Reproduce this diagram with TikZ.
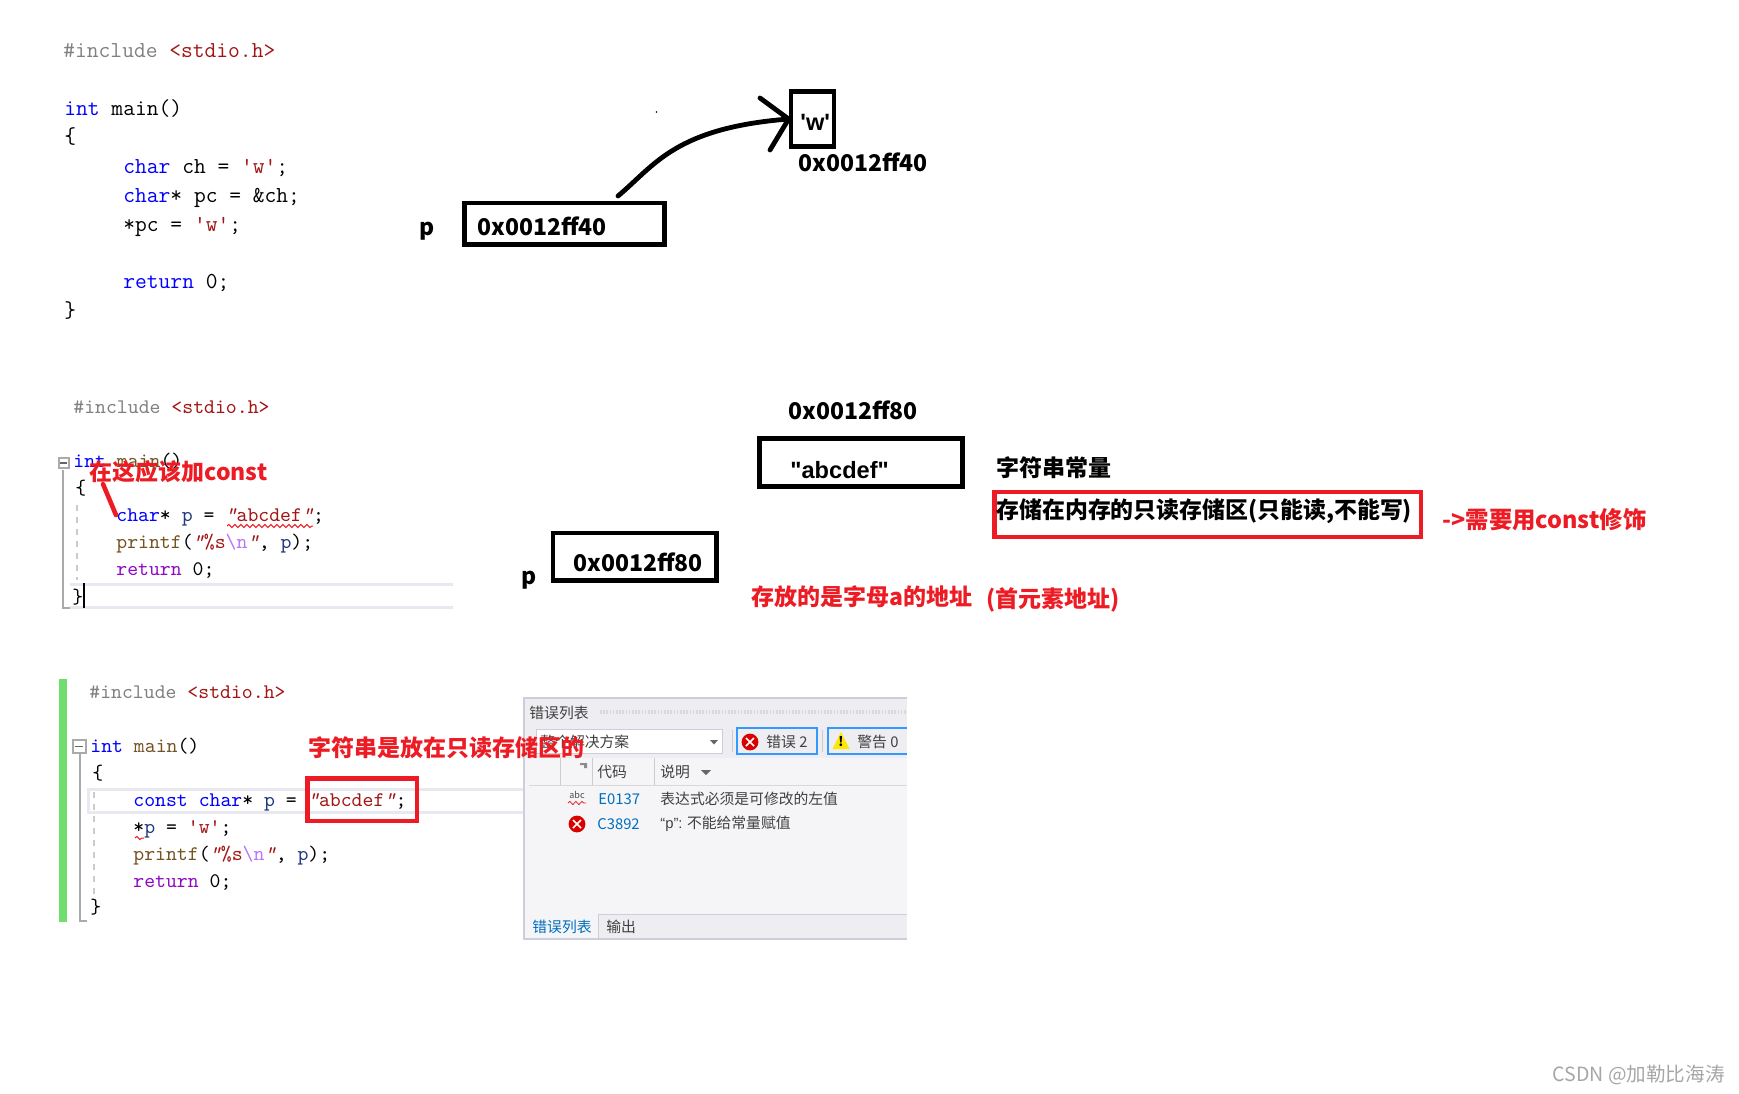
\documentclass[tikz,border=0pt]{standalone}
\usepackage{fontspec}
\setmainfont{Noto Sans CJK SC}
\newfontfamily\latinfont{Liberation Sans}
\usepackage{tikz}
\usetikzlibrary{decorations.pathmorphing}

\definecolor{kwblue}{RGB}{0,0,255}
\definecolor{strred}{RGB}{163,21,21}
\definecolor{incgray}{RGB}{128,128,128}
\definecolor{fnbrown}{RGB}{116,83,31}
\definecolor{varblue}{RGB}{31,55,127}
\definecolor{flowpurple}{RGB}{143,8,196}
\definecolor{escpurple}{RGB}{183,118,251}
\definecolor{notered}{RGB}{237,28,36}
\definecolor{barcolor}{RGB}{112,222,108}
\definecolor{linegray}{RGB}{232,232,240}
\definecolor{foldgray}{RGB}{170,170,170}
\definecolor{panelbg}{RGB}{245,245,247}
\definecolor{panelbar}{RGB}{238,238,242}
\definecolor{panelline}{RGB}{204,206,219}
\definecolor{btnblue}{RGB}{51,153,255}
\definecolor{codeblue}{RGB}{0,110,190}

\newcommand{\kw}[1]{\textcolor{kwblue}{#1}}
\newcommand{\str}[1]{\textcolor{strred}{#1}}
\newcommand{\inc}[1]{\textcolor{incgray}{#1}}
\newcommand{\fn}[1]{\textcolor{fnbrown}{#1}}
\newcommand{\var}[1]{\textcolor{varblue}{#1}}
\newcommand{\flow}[1]{\textcolor{flowpurple}{#1}}
\newcommand{\esc}[1]{\textcolor{escpurple}{#1}}
\newcommand{\qt}{\textit{"}}

\tikzset{
	codeone/.style={anchor=base west,inner sep=0pt,font=\ttfamily\fontsize{11.43}{13}\selectfont},
	codetwo/.style={anchor=base west,inner sep=0pt,font=\ttfamily\fontsize{10.38}{12}\selectfont},
	blacklabel/.style={anchor=west,inner sep=0pt,font=\bfseries\fontsize{11.5}{14}\selectfont},
	quotelabel/.style={anchor=west,inner sep=0pt,font=\latinfont\bfseries\fontsize{11.8}{14}\selectfont},
	rednote/.style={anchor=west,inner sep=0pt,text=notered,font=\bfseries\fontsize{11.5}{14}\selectfont},
	blackbox/.style={draw,line width=2.4pt,inner sep=0pt},
	redbox/.style={draw=notered,line width=2.2pt,inner sep=0pt},
	paneltext/.style={anchor=west,inner sep=0pt,text=black!75,font=\fontsize{7.4}{9}\selectfont},
	fold/.style={draw=foldgray,line width=1pt},
	squiggle/.style={notered,line width=0.5pt,decorate,decoration={snake,segment length=3pt,amplitude=0.8pt}},
	guide/.style={draw=black!20,line width=0.8pt,dashed}
}

\begin{document}
\begin{tikzpicture}[x=0.5pt,y=-0.5pt]
\useasboundingbox (0,0) rectangle (1739,1093);

% first listing
\node[codeone] (incone) at (63,57) {\inc{\#include} \str{<stdio.h>}};
\node[codeone] (mainone) at (64,115) {\kw{int} main()};
\node[codeone] (openone) at (64,143) {\{};
\node[codeone] (chone) at (123,173) {\kw{char} ch = \str{'w'};};
\node[codeone] (pcone) at (123,202) {\kw{char}* pc = \&ch;};
\node[codeone] (derefone) at (123,231) {*pc = \str{'w'};};
\node[codeone] (retone) at (123,288) {\kw{return} 0;};
\node[codeone] (closeone) at (64,317) {\}};

% pointer to the char
\node[blacklabel] (pone) at (419,231) {p};
\node[blackbox,minimum width=99.8pt,minimum height=20.6pt] (pcbox) at (564.5,223.5) {};
\node[blacklabel] (pcval) at (477,226) {0x0012ff40};
\node[blackbox,minimum width=21.5pt,minimum height=27.6pt] (wbox) at (812.5,119) {};
\node[quotelabel] (wval) at (800,122) {'w'};
\node[blacklabel] (waddr) at (798,162) {0x0012ff40};
\coordinate (arcstart) at (618,196);
\coordinate (headup) at (760,98);
\coordinate (headdown) at (770,150);
\draw[line width=2.4pt,line cap=round] (arcstart) .. controls (655,165) and (675,128) .. (wbox.west);
\draw[line width=2.4pt,line cap=round] (headup) -- (wbox.west) -- (headdown);
\fill (656.5,112) circle (0.4pt);

% second listing
\draw[linegray,line width=1.5pt] (70,584.5) -- (453,584.5) (70,607.5) -- (453,607.5);
\draw[fold] (63,470) -- (63,608) -- (70,608);
\node[fold,minimum size=5pt,inner sep=0pt] (foldtwo) at (63.5,463) {};
\draw[black!60,line width=0.6pt] (60,463) -- (67,463);
\draw[guide] (77,505) -- (77,580);
\node[codetwo] (inctwo) at (73,413) {\inc{\#include} \str{<stdio.h>}};
\node[codetwo] (maintwo) at (73,467) {\kw{int} \fn{main}()};
\node[codetwo] (opentwo) at (75,494) {\{};
\node[codetwo] (chartwo) at (116,521) {\kw{char}* \var{p} = \str{\qt abcdef\qt};};
\node[codetwo] (printtwo) at (116,548) {\fn{printf}(\str{\qt\%s}\esc{\textbackslash n}\str{\qt}, \var{p});};
\node[codetwo] (rettwo) at (116,575) {\flow{return} 0;};
\node[codetwo] (closetwo) at (72,603) {\}};
\draw[line width=0.7pt] (84,583) -- (84,608);
\draw[squiggle] (227,526) -- (313,526);
\node[rednote] (addconst) at (89,472) {在这应该加const};
\coordinate (markstart) at (103,484);
\coordinate (markend) at (116,515);
\draw[notered,line width=2.3pt,line cap=round] (markstart) -- (markend);

% string constant
\node[blacklabel] (abcaddr) at (788,410) {0x0012ff80};
\node[blackbox,minimum width=101.4pt,minimum height=23.8pt] (abcbox) at (861.2,462.5) {};
\node[quotelabel] (abcval) at (790,470) {"abcdef"};
\node[blacklabel] (conststr) at (996,468) {字符串常量};
\node[redbox,minimum width=213.2pt,minimum height=22.5pt] (robox) at (1207.7,514.5) {};
\node[blacklabel,font=\bfseries\fontsize{11.45}{14}\selectfont] (rotext) at (996,511) {存储在内存的只读存储区(只能读,不能写)};
\node[rednote,font=\bfseries\fontsize{11.7}{14}\selectfont] (needconst) at (1442,520) {->需要用const修饰};
\node[blacklabel] (ptwo) at (521,580) {p};
\node[blackbox,minimum width=81.6pt,minimum height=23.6pt] (ptwobox) at (634.5,556.5) {};
\node[blacklabel] (ptwoval) at (573,562) {0x0012ff80};
\node[rednote] (addrnote) at (751,597) {存放的是字母a的地址};
\node[rednote] (firstnote) at (986,600) {(首元素地址)};

% third listing
\fill[barcolor] (59,679) rectangle (67,922);
\draw[linegray,line width=1.5pt] (88,789) rectangle (530,812.5);
\draw[fold] (80,754) -- (80,921) -- (87,921);
\node[fold,minimum size=6.5pt,inner sep=0pt] (foldthree) at (79,746.5) {};
\draw[black!60,line width=0.6pt] (75,746.5) -- (83,746.5);
\draw[guide] (94,792) -- (94,900);
\node[codetwo] (incthree) at (89,698) {\inc{\#include} \str{<stdio.h>}};
\node[codetwo] (mainthree) at (90,752) {\kw{int} \fn{main}()};
\node[codetwo] (openthree) at (92,779) {\{};
\node[codetwo] (constthree) at (133,806) {\kw{const} \kw{char}* \var{p} = \str{\qt abcdef\qt};};
\node[codetwo] (derefthree) at (133,833) {*\var{p} = \str{'w'};};
\node[codetwo] (printthree) at (133,860) {\fn{printf}(\str{\qt\%s}\esc{\textbackslash n}\str{\qt}, \var{p});};
\node[codetwo] (retthree) at (133,887) {\flow{return} 0;};
\node[codetwo] (closethree) at (90,913) {\}};
\draw[squiggle] (135,838) -- (144,838);
\node[redbox,minimum width=54.7pt,minimum height=21.2pt] (litbox) at (362,799.5) {};

% error list panel
\fill[panelbg] (524,698) rectangle (907,939);
\fill[panelbar] (524,698) rectangle (907,758);
\fill[panelbar] (524,914) rectangle (907,939);
\fill[panelbg] (524,914) rectangle (598,939);
\draw[panelline,line width=0.7pt] (907,698) -- (524,698) -- (524,939) -- (907,939);
\draw[panelline,line width=0.5pt] (598,939) -- (598,914) -- (907,914);
\node[paneltext] (paneltitle) at (529,713) {错误列表};
\draw[black!15,line width=1.8pt,dash pattern=on 0.8pt off 0.8pt] (600,712) -- (907,712);
\node[draw=panelline,fill=white,minimum width=93pt,minimum height=12pt,inner sep=0pt] (scopebox) at (629,741) {};
\node[paneltext] (scopetext) at (540,742) {整个解决方案};
\fill[black!60] (710,740) -- (718,740) -- (714,744.5) -- cycle;
\draw[black!20,line width=0.5pt] (732,730) -- (732,752) (822,730) -- (822,752);
\node[draw=btnblue,line width=0.6pt,minimum width=40pt,minimum height=13pt,inner sep=0pt] (errbtn) at (777,741) {};
\node[paneltext] (errtext) at (766,742) {错误 2};
\draw[btnblue,line width=0.6pt] (907,728) -- (828,728) -- (828,754) -- (907,754);
\fill[yellow!90!orange] (841,732) -- (849.5,749) -- (832.5,749) -- cycle;
\node[inner sep=0pt,font=\bfseries\fontsize{6.5}{7}\selectfont] (warnmark) at (841,742) {!};
\node[paneltext] (warntext) at (857,742) {警告 0};
\draw[black!15,line width=0.5pt] (529,785) -- (907,785);
\foreach \x in {560,592,654}
{
	\draw[black!20,line width=0.5pt] (\x,758) -- (\x,785);
}
\fill[black!45] (580,763) rectangle (587,765) (584,765) rectangle (587,768);
\node[paneltext] (codehead) at (597,772) {代码};
\node[paneltext] (deschead) at (660,772) {说明};
\fill[black!60] (701,770) -- (711,770) -- (706,775) -- cycle;
\node[inner sep=0pt,text=black!70,font=\fontsize{4.5}{5}\selectfont] (abcicon) at (577,795) {abc};
\draw[squiggle,line width=0.4pt] (568,803) -- (586,803);
\node[paneltext,text=codeblue] (errone) at (598,799) {E0137};
\node[paneltext] (descone) at (660,799) {表达式必须是可修改的左值};
\node[paneltext,text=codeblue] (errtwo) at (597,824) {C3892};
\node[paneltext] (desctwo) at (660,824) {{\latinfont “p”:} 不能给常量赋值};
\foreach \x/\y in {750/742,577/824}
{
	\fill[red!85!black] (\x,\y) circle (4.2pt);
	\draw[white,line width=0.8pt] (\x-4,\y-4) -- (\x+4,\y+4) (\x-4,\y+4) -- (\x+4,\y-4);
}
\node[paneltext,text=codeblue] (tabone) at (532,927) {错误列表};
\node[paneltext] (tabtwo) at (606,927) {输出};

\node[rednote] (storenote) at (308,748) {字符串是放在只读存储区的};

% watermark
\node[anchor=west,inner sep=0pt,text=black!35,font=\fontsize{9.8}{11}\selectfont] (mark) at (1552,1075) {CSDN @加勒比海涛};
\end{tikzpicture}
\end{document}
